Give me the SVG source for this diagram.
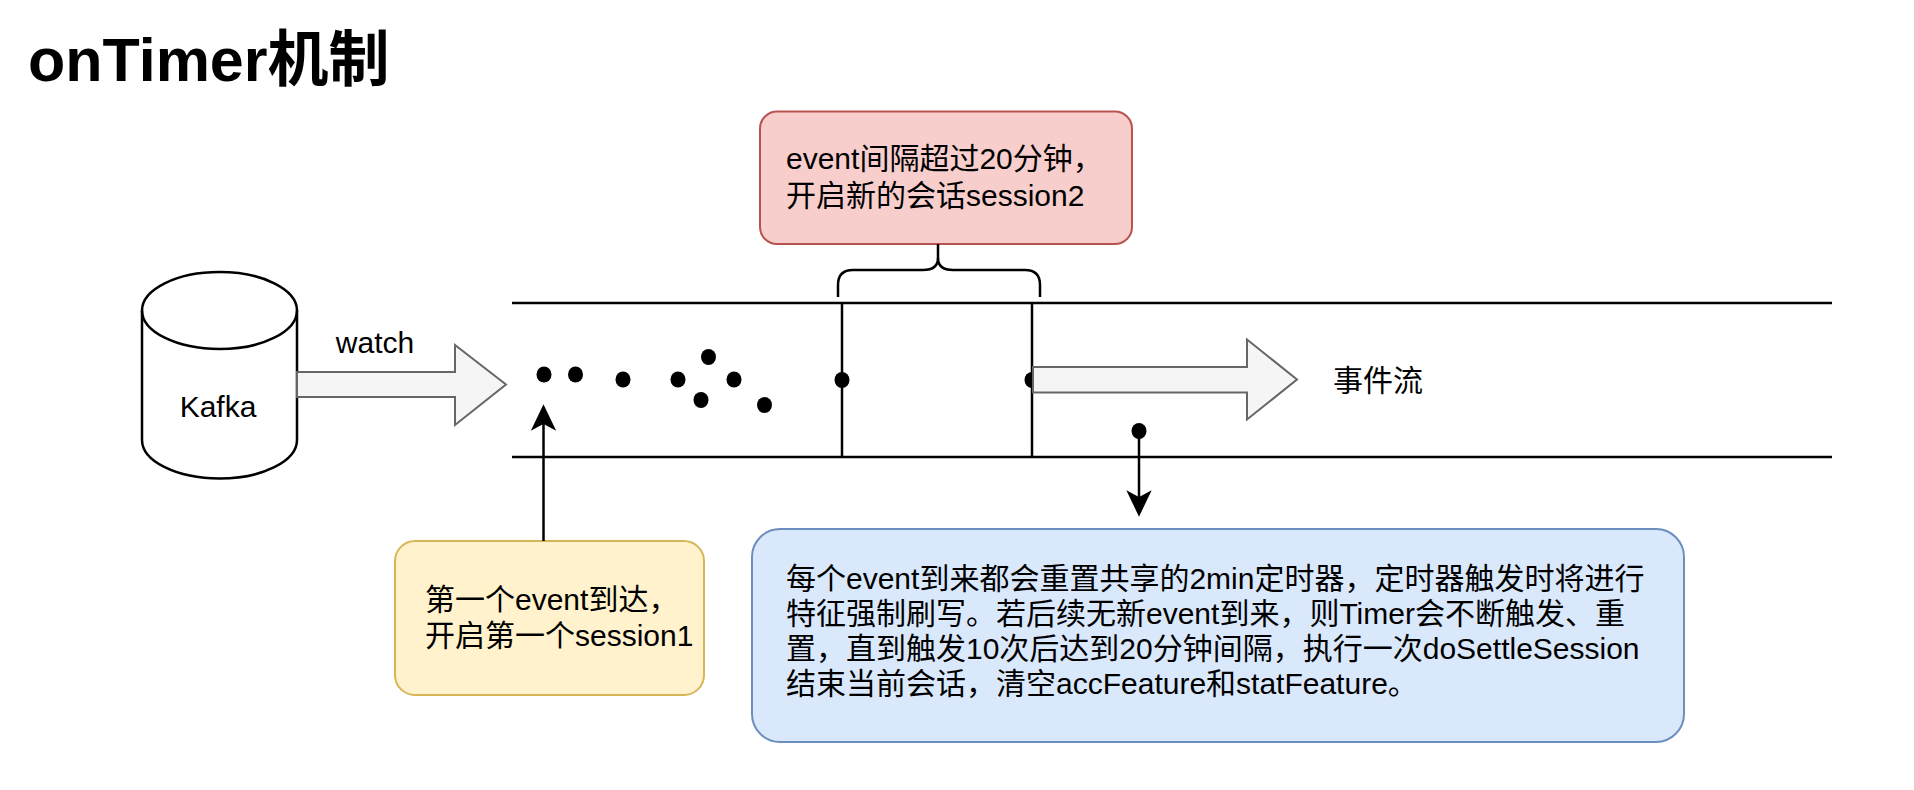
<svg xmlns="http://www.w3.org/2000/svg" width="1914" height="790" viewBox="0 0 1914 790">
<style>
.t{font-family:"Liberation Sans","Noto Sans CJK SC",sans-serif;font-size:30px;fill:#000}
.title{font-family:"Liberation Sans","Noto Sans CJK SC",sans-serif;font-size:61px;font-weight:bold;fill:#000}
.ln{stroke:#000;stroke-width:2.5;fill:none}
.blk{fill:#f5f5f5;stroke:#666;stroke-width:2}
.dot{fill:#000}
</style>
<rect width="1914" height="790" fill="#fff"/>
<g id="title"><text class="title" x="28" y="81">onTimer机制</text></g>

<g id="stream">
<line class="ln" x1="512" y1="303" x2="1832" y2="303"/>
<line class="ln" x1="512" y1="457" x2="1832" y2="457"/>
<line class="ln" x1="842" y1="303" x2="842" y2="457"/>
<line class="ln" x1="1032" y1="303" x2="1032" y2="457"/>
</g>

<g id="events">
<ellipse class="dot" cx="544" cy="374.5" rx="7.5" ry="8"/>
<ellipse class="dot" cx="575.5" cy="374.5" rx="7.5" ry="8"/>
<ellipse class="dot" cx="623" cy="379.5" rx="7.5" ry="8"/>
<ellipse class="dot" cx="678" cy="379.5" rx="7.5" ry="8"/>
<ellipse class="dot" cx="708.5" cy="357" rx="7.5" ry="8"/>
<ellipse class="dot" cx="734" cy="379.5" rx="7.5" ry="8"/>
<ellipse class="dot" cx="701" cy="400" rx="7.5" ry="8"/>
<ellipse class="dot" cx="764.5" cy="405" rx="7.5" ry="8"/>
<ellipse class="dot" cx="842" cy="380" rx="7.5" ry="8"/>
<ellipse class="dot" cx="1032" cy="380" rx="7.5" ry="8"/>
<ellipse class="dot" cx="1139" cy="431" rx="7.5" ry="8"/>
</g>

<g id="kafka">
<path d="M142 310.5 A77.5 38.5 0 0 1 297 310.5 L297 440 A77.5 38.5 0 0 1 142 440 Z" fill="#fff" stroke="#000" stroke-width="2.5"/>
<path d="M142 310.5 A77.5 38.5 0 0 0 297 310.5" fill="none" stroke="#000" stroke-width="2.5"/>
<text class="t" x="218" y="417" text-anchor="middle">Kafka</text>
</g>

<g id="watch-arrow">
<path class="blk" d="M297 372 L455 372 L455 345 L506 384.5 L455 425 L455 397 L297 397 Z"/>
<text class="t" x="375" y="353" text-anchor="middle">watch</text>
</g>

<g id="flow-arrow">
<path class="blk" d="M1033 367 L1247 367 L1247 339.5 L1297 379.5 L1247 419.5 L1247 392.5 L1033 392.5 Z"/>
<text class="t" x="1333" y="391">事件流</text>
</g>

<g id="session2-note">
<rect x="760" y="111.5" width="372" height="132.5" rx="17" ry="17" fill="#f8cecc" stroke="#b85450" stroke-width="2"/>
<text class="t" x="786" y="169">event间隔超过20分钟，</text>
<text class="t" x="786" y="206">开启新的会话session2</text>
</g>

<g id="session1-note">
<rect x="395" y="541" width="309" height="154" rx="20" ry="20" fill="#fff2cc" stroke="#d6b656" stroke-width="2"/>
<text class="t" x="425" y="609.5">第一个event到达，</text>
<text class="t" x="425" y="646">开启第一个session1</text>
</g>

<g id="timer-note">
<rect x="752" y="529" width="932" height="213" rx="28" ry="28" fill="#dae8fc" stroke="#6c8ebf" stroke-width="2"/>
<text class="t" x="786" y="588.5">每个event到来都会重置共享的2min定时器，定时器触发时将进行</text>
<text class="t" x="786" y="623.5">特征强制刷写。若后续无新event到来，则Timer会不断触发、重</text>
<text class="t" x="786" y="658.5">置，直到触发10次后达到20分钟间隔，执行一次doSettleSession</text>
<text class="t" x="786" y="693.5">结束当前会话，清空accFeature和statFeature。</text>
</g>

<g id="connectors">
<path class="ln" d="M938 244 L938 258 Q938 270 923 270 L853 270 Q838 270 838 285 L838 297"/>
<path class="ln" d="M938 258 Q938 270 953 270 L1025 270 Q1040 270 1040 285 L1040 297"/>
<line class="ln" x1="543.5" y1="541" x2="543.5" y2="424"/>
<path d="M543.5 406 L554.5 429 L543.5 423 L532.5 429 Z" fill="#000" stroke="#000" stroke-width="1.5"/>
<line class="ln" x1="1139" y1="431" x2="1139" y2="498"/>
<path d="M1139 515 L1150 492 L1139 498 L1128 492 Z" fill="#000" stroke="#000" stroke-width="1.5"/>
</g>
</svg>
